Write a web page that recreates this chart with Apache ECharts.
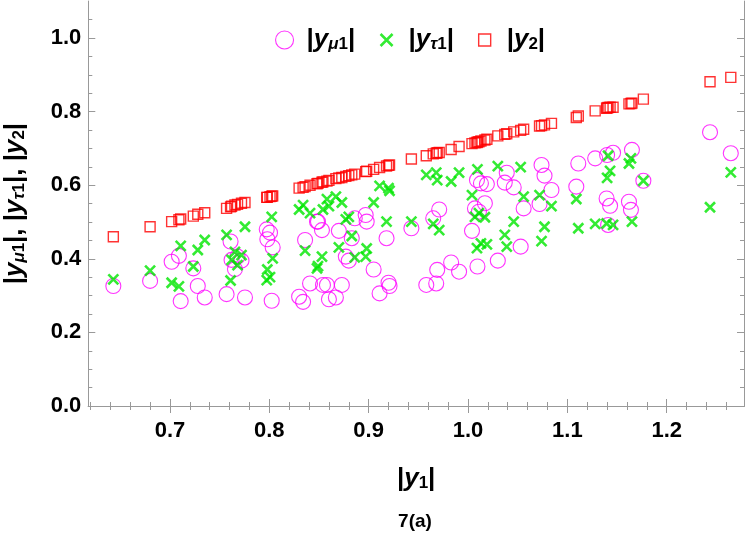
<!DOCTYPE html>
<html><head><meta charset="utf-8">
<script src="https://cdn.jsdelivr.net/npm/echarts@6/dist/echarts.min.js"></script>
<style>html,body{margin:0;padding:0;background:#fff}#c{width:747px;height:538px}</style>
</head><body><div id="c"></div>
<script>
// |y1| values (shared x for all three series)
const y1 = [
  0.643, 0.680, 0.7017, 0.709, 0.7108, 0.7235, 0.728, 0.735,
  0.757, 0.761, 0.762, 0.7654, 0.768, 0.772, 0.7755,
  0.7974, 0.798, 0.8007, 0.8024, 0.8034,
  0.830, 0.834, 0.836, 0.841,
  0.848, 0.849, 0.853, 0.854, 0.858, 0.860, 0.867, 0.870, 0.873, 0.877, 0.880, 0.883, 0.886, 0.897, 0.898, 0.905, 0.911, 0.918, 0.920, 0.921,
  0.943, 0.958, 0.965, 0.968, 0.969, 0.971, 0.983, 0.991, 1.004, 1.007, 1.009, 1.0095, 1.011, 1.013, 1.017, 1.019, 1.030, 1.037, 1.039, 1.046, 1.053, 1.056,
  1.072, 1.074, 1.077, 1.084, 1.109, 1.111, 1.128, 1.1395, 1.140, 1.141, 1.143, 1.146, 1.162, 1.164, 1.165, 1.1765,
  1.2436, 1.2645
];
// |y_mu1|
const yMu1 = [
  0.326, 0.340, 0.392, 0.408, 0.285, 0.374, 0.326, 0.295,
  0.304, 0.447, 0.397, 0.372, 0.406, 0.395, 0.295,
  0.480, 0.453, 0.471, 0.286, 0.431,
  0.297, 0.283, 0.451, 0.333,
  0.501, 0.501, 0.478, 0.329, 0.329, 0.290, 0.295, 0.476, 0.329, 0.406, 0.395, 0.456, 0.510, 0.519, 0.501, 0.371, 0.306, 0.456, 0.335, 0.326,
  0.483, 0.329, 0.510, 0.333, 0.370, 0.534, 0.390, 0.365, 0.476, 0.537, 0.614, 0.379, 0.528, 0.605, 0.551, 0.603, 0.395, 0.607, 0.634, 0.594, 0.433, 0.537,
  0.549, 0.655, 0.626, 0.587, 0.596, 0.659, 0.673, 0.564, 0.682, 0.492, 0.544, 0.688, 0.555, 0.533, 0.696, 0.612,
  0.744, 0.687
];
// |y_tau1|
const yTau1 = [
  0.344, 0.368, 0.335, 0.325, 0.435, 0.379, 0.424, 0.451,
  0.465, 0.341, 0.397, 0.419, 0.383, 0.410, 0.487,
  0.342, 0.371, 0.350, 0.514, 0.401,
  0.534, 0.546, 0.422, 0.524,
  0.374, 0.380, 0.406, 0.534, 0.562, 0.543, 0.569, 0.431, 0.553, 0.507, 0.514, 0.462, 0.404, 0.406, 0.428, 0.553, 0.598, 0.501, 0.592, 0.585,
  0.501, 0.628, 0.495, 0.634, 0.614, 0.478, 0.610, 0.634, 0.573, 0.514, 0.429, 0.643, 0.524, 0.442, 0.513, 0.439, 0.652, 0.465, 0.433, 0.501, 0.649, 0.569,
  0.573, 0.448, 0.487, 0.543, 0.5625, 0.483, 0.495, 0.496, 0.620, 0.680, 0.639, 0.492, 0.659, 0.673, 0.501, 0.612,
  0.540, 0.635
];
// |y2|
const y2 = [
  0.460, 0.487, 0.501, 0.506, 0.508, 0.516, 0.521, 0.525,
  0.537, 0.541, 0.543, 0.546, 0.548, 0.551, 0.553,
  0.567, 0.567, 0.569, 0.570, 0.571,
  0.592, 0.594, 0.596, 0.600,
  0.604, 0.605, 0.608, 0.609, 0.611, 0.613, 0.618, 0.620, 0.621, 0.624, 0.626, 0.628, 0.630, 0.637, 0.638, 0.643, 0.648, 0.652, 0.654, 0.655,
  0.671, 0.680, 0.685, 0.687, 0.688, 0.689, 0.697, 0.705, 0.713, 0.715, 0.716, 0.717, 0.718, 0.720, 0.723, 0.725, 0.734, 0.738, 0.740, 0.745, 0.749, 0.752,
  0.761, 0.762, 0.764, 0.768, 0.784, 0.788, 0.802, 0.809, 0.810, 0.811, 0.812, 0.812, 0.821, 0.822, 0.823, 0.834,
  0.881, 0.893
];
// tick positions / labels
const xMajorTicks = [0.7, 0.8, 0.9, 1.0, 1.1, 1.2];
const xMinorTicks = [0.62, 0.64, 0.66, 0.68, 0.72, 0.74, 0.76, 0.78, 0.82, 0.84, 0.86, 0.88, 0.92, 0.94, 0.96, 0.98, 1.02, 1.04, 1.06, 1.08, 1.12, 1.14, 1.16, 1.18, 1.22, 1.24, 1.26];
const yMajorTicks = [0.0, 0.2, 0.4, 0.6, 0.8, 1.0];
const yMinorTicks = [0.05, 0.1, 0.15, 0.25, 0.3, 0.35, 0.45, 0.5, 0.55, 0.65, 0.7, 0.75, 0.85, 0.9, 0.95, 1.05];
const X_MIN = 0.6178, X_MAX = 1.2778, Y_MIN = 0, Y_MAX = 1.1;

const F = "'Liberation Sans', Arial, Helvetica, sans-serif";
const rich = {
  b: {fontSize: 26, fontWeight: 'bold', fontFamily: F, color: '#000'},
  i: {fontSize: 26, fontWeight: 'bold', fontStyle: 'italic', fontFamily: F, color: '#000'},
  s: {fontSize: 17, fontWeight: 'bold', fontStyle: 'italic', fontFamily: F, color: '#000', verticalAlign: 'bottom'},
  n: {fontSize: 17, fontWeight: 'bold', fontFamily: F, color: '#000', verticalAlign: 'bottom'}
};
const legendLabels = {
  mu: '{b||}{i|y}{s|μ}{n|1}{b||}',
  tau: '{b||}{i|y}{s|τ}{n|1}{b||}',
  y2: '{b||}{i|y}{n|2}{b||}'
};
const AX = '#999';
const labelStyle = {fontSize: 22, fontWeight: 'bold', fontFamily: F, color: '#000'};

function xAxisDef(pos, ticks, len, withLabels) {
  return {
    type: 'value', position: pos, min: X_MIN, max: X_MAX,
    axisLine: {show: true, lineStyle: {color: AX, width: 1}},
    axisTick: {show: true, inside: true, length: len, customValues: ticks, lineStyle: {color: AX, width: 1}},
    axisLabel: withLabels ? Object.assign({show: true, margin: 14, customValues: ticks, formatter: v => v.toFixed(1)}, labelStyle) : {show: false},
    splitLine: {show: false}
  };
}
function yAxisDef(pos, ticks, len, withLabels) {
  return {
    type: 'value', position: pos, min: Y_MIN, max: Y_MAX,
    axisLine: {show: true, lineStyle: {color: AX, width: 1}},
    axisTick: {show: true, inside: true, length: len, customValues: ticks, lineStyle: {color: AX, width: 1}},
    axisLabel: withLabels ? Object.assign({show: true, margin: 7, customValues: ticks, formatter: v => v.toFixed(1)}, labelStyle) : {show: false},
    splitLine: {show: false}
  };
}

const xAxes = [
  xAxisDef('bottom', xMajorTicks, 7, true),
  xAxisDef('bottom', xMinorTicks, 4, false),
  xAxisDef('top', xMajorTicks, 7, false),
  xAxisDef('top', xMinorTicks, 4, false)
];
xAxes[0].name = '{b||}{i|y}{n|1}{b||}';
xAxes[0].nameLocation = 'middle';
xAxes[0].nameGap = 60;
xAxes[0].nameTextStyle = {rich: rich};

const yAxes = [
  yAxisDef('left', yMajorTicks, 7, true),
  yAxisDef('left', yMinorTicks, 4, false),
  yAxisDef('right', yMajorTicks, 7, false),
  yAxisDef('right', yMinorTicks, 4, false)
];
yAxes[0].name = '{b||}{i|y}{s|μ}{n|1}{b||}{b|, |}{i|y}{s|τ}{n|1}{b||}{b|, |}{i|y}{n|2}{b||}';
yAxes[0].nameLocation = 'middle';
yAxes[0].nameRotate = 90;
yAxes[0].nameGap = 60;
yAxes[0].nameTextStyle = {rich: rich};

const pts = ys => y1.map((x, i) => [x, ys[i]]);
const MAG = '#ff00ff', GRN = '#00e600', RED = '#ff0000';

const chart = echarts.init(document.getElementById('c'), null, {renderer: 'canvas'});
chart.setOption({
  animation: false,
  backgroundColor: '#fff',
  grid: {left: 88.3, right: 3, top: 1.2, bottom: 132, containLabel: false, outerBoundsMode: 'none'},
  xAxis: xAxes,
  yAxis: yAxes,
  legend: {
    left: 270, top: 22, itemWidth: 18, itemHeight: 18, itemGap: 21, padding: 5,
    data: [
      {name: 'mu', icon: 'circle', itemStyle: {color: 'rgba(0,0,0,0)', borderColor: MAG, borderWidth: 1.1}},
      {name: 'tau', icon: 'path://M0,0M18,18M3,3L15,15M15,3L3,15', itemStyle: {color: 'rgba(0,0,0,0)', borderColor: GRN, borderWidth: 2.6}},
      {name: 'y2', icon: 'path://M0,0M18,18M3,3L15,3L15,15L3,15Z', itemStyle: {color: 'rgba(0,0,0,0)', borderColor: RED, borderWidth: 1.4}}
    ],
    formatter: n => legendLabels[n],
    textStyle: {padding: [0, 0, 0, 8], rich: rich},
    selectedMode: false
  },
  graphic: [{
    type: 'text', x: 415, y: 522,
    style: {text: '7(a)', font: 'bold 19px ' + F, fill: '#000', textAlign: 'center', textVerticalAlign: 'middle'}
  }],
  series: [
    {name: 'mu', type: 'scatter', xAxisIndex: 0, yAxisIndex: 0, data: pts(yMu1), symbol: 'circle', symbolSize: 15,
     itemStyle: {color: 'rgba(0,0,0,0)', borderColor: MAG, borderWidth: 1.1}, silent: true},
    {name: 'tau', type: 'scatter', xAxisIndex: 0, yAxisIndex: 0, data: pts(yTau1), symbol: 'path://M0,0L10,10M10,0L0,10', symbolSize: 10,
     itemStyle: {color: 'rgba(0,0,0,0)', borderColor: GRN, borderWidth: 2.6}, silent: true},
    {name: 'y2', type: 'scatter', xAxisIndex: 0, yAxisIndex: 0, data: pts(y2), symbol: 'rect', symbolSize: 10,
     itemStyle: {color: 'rgba(0,0,0,0)', borderColor: RED, borderWidth: 1.4}, silent: true}
  ]
});
</script></body></html>
